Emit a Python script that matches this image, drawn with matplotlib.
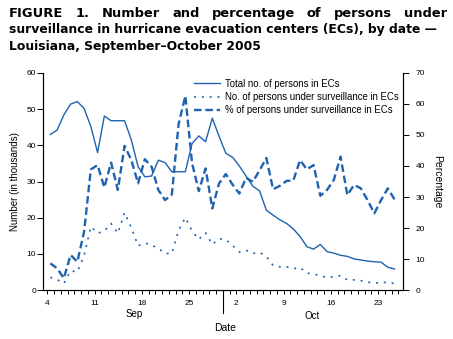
import matplotlib
matplotlib.use("Agg")
import matplotlib.pyplot as plt
import numpy as np

# +-----+ data (daily, Sep 4 -> Oct 25, 2005) +-----+ #
total_k = [43.0, 44.2, 48.4, 51.4, 52.1, 50.2, 45.2, 38.0, 48.1, 46.8,
           46.8, 46.8, 41.5, 34.1, 31.3, 31.5, 35.9, 35.2, 32.7, 32.7,
           32.7, 40.5, 42.6, 41.0, 47.5, 42.5, 37.8, 36.7, 34.3, 31.5,
           28.7, 27.4, 22.1, 20.7, 19.4, 18.4, 16.9, 14.8, 12.0, 11.3,
           12.6, 10.6, 10.2, 9.6, 9.3, 8.6, 8.3, 8.0, 7.8, 7.7,
           6.3, 5.8]
surv_k = [3.5, 2.9, 1.8, 5.3, 5.0, 9.5, 17.5, 15.7, 16.3, 18.4,
          15.7, 21.4, 17.2, 12.2, 13.0, 12.4, 11.5, 10.1, 10.1, 16.5,
          20.0, 16.3, 14.0, 15.8, 12.6, 14.2, 13.9, 12.3, 10.5, 11.0,
          10.1, 10.4, 9.3, 6.8, 6.4, 6.4, 5.9, 6.2, 4.7, 4.4,
          4.0, 3.4, 3.7, 4.0, 2.8, 2.8, 2.6, 2.2, 1.9, 2.1,
          2.1, 1.8]
pct = [8.6, 7.0, 3.8, 11.3, 9.1, 18.8, 38.9, 40.3, 33.1, 41.1,
       32.3, 46.5, 41.9, 34.4, 42.2, 39.8, 32.3, 29.0, 30.8, 53.5,
       62.6, 40.9, 31.9, 39.2, 26.3, 34.4, 37.4, 34.0, 31.1, 36.2,
       34.9, 38.6, 42.6, 32.5, 33.6, 35.2, 35.3, 41.9, 38.9, 40.3,
       30.4, 32.3, 35.5, 43.0, 30.6, 33.9, 32.8, 29.0, 24.7, 29.0,
       32.8, 29.2]

tick_days = [0, 7, 14, 21, 28, 35, 42, 49]
tick_labels = ["4", "11", "18", "25", "2", "9", "16", "23"]
months = ["Sep", "Oct"]

blue = "#1f62b0"
plt.rcParams['font.family'] = ['Liberation Sans', 'DejaVu Sans']

days = np.arange(len(total_k)) + 0.45  # points sit mid-day

fig = plt.figure(figsize=(4.53, 3.39), dpi=100)
ax = fig.add_axes([0.0949, 0.1445, 0.7947, 0.6402])
ax2 = ax.twinx()

l1, = ax.plot(days, total_k, color=blue, lw=1.0)
l2, = ax.plot(days, surv_k, color=blue, lw=1.2, ls=(0, (1.2, 3.5)))
l3, = ax2.plot(days, pct, color=blue, lw=1.7, ls=(0, (3.2, 1.6)))

ax.set_xlim(-0.64, 52.7)
ax.set_ylim(0, 60)
ax2.set_ylim(0, 70)
ax.set_yticks(range(0, 61, 10))
ax2.set_yticks(range(0, 71, 10))
ax.set_xticks(range(0, 53), minor=True)
ax.set_xticks(tick_days)
ax.set_xticklabels(tick_labels)

for a in (ax, ax2):
    a.spines['top'].set_visible(False)
    for s in a.spines.values():
        s.set_linewidth(0.8)
ax.tick_params(axis='x', which='both', length=3, width=0.7, labelsize=6, pad=4)
ax.tick_params(axis='y', length=4, width=0.7, labelsize=6, pad=1)
ax2.tick_params(axis='y', length=4, width=0.7, labelsize=6, pad=5)

ax.set_ylabel("Number (in thousands)", fontsize=7, labelpad=5)
ax2.set_ylabel("Percentage", fontsize=7.5, rotation=-90, labelpad=12)

# month separator + month names
xt = ax.get_xaxis_transform()
ax.plot([26, 26], [0, -0.106], color='black', lw=0.8, transform=xt, clip_on=False)
ax.text(12.8, -0.112, months[0], transform=xt, ha='center', va='center', fontsize=7)
ax.text(39.2, -0.12, months[1], transform=xt, ha='center', va='center', fontsize=7)
ax.text(26.3, -0.177, "Date", transform=xt, ha='center', va='center', fontsize=7.5)

leg = ax.legend([l1, l2, l3],
                ["Total no. of persons in ECs",
                 "No. of persons under surveillance in ECs",
                 "% of persons under surveillance in ECs"],
                loc='upper right', bbox_to_anchor=(1.005, 1.0), frameon=False,
                fontsize=6.9, handlelength=2.7, handletextpad=0.55,
                labelspacing=0.35, borderaxespad=0.2)

# title, first line justified like the original
title = ["FIGURE 1. Number and percentage of persons under",
         "surveillance in hurricane evacuation centers (ECs), by date \u2014",
         "Louisiana, September\u2013October 2005"]
tfont = dict(fontsize=8.4, fontweight='bold', family=['DejaVu Sans'])
r = fig.canvas.get_renderer()
x0, x1 = 9, 447
# scale font so that line 2 is as wide as in the original
probe = fig.text(0, 0, title[1], **tfont)
w = probe.get_window_extent(r).width
probe.remove()
tfont['fontsize'] *= (437 - x0) / w
f1 = dict(tfont, fontsize=tfont['fontsize'] * 1.05)
words = title[0].split(" ")
ws = []
for wd in words:
    t = fig.text(0, 0, wd, **f1)
    ws.append(t.get_window_extent(r).width)
    t.remove()
gap = (x1 - x0 - sum(ws)) / (len(words) - 1)
x = x0
for wd, wdw in zip(words, ws):
    fig.text(x / 453, 1 - 17 / 339, wd, ha='left', va='baseline', **f1)
    x += wdw + gap
for i, t in enumerate(title[1:]):
    fig.text(x0 / 453, 1 - (17 + (i + 1) * 16.5) / 339, t,
             ha='left', va='baseline', **tfont)

fig.savefig("out.png", dpi=100)
